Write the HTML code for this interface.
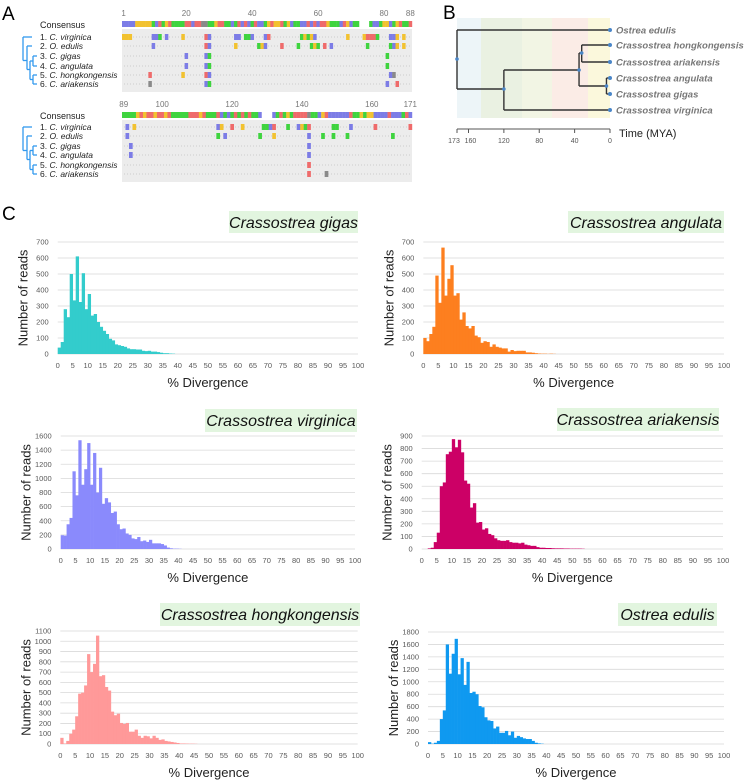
<!DOCTYPE html>
<html><head><meta charset="utf-8"><style>
body{margin:0;background:#fff}
svg{display:block;font-family:"Liberation Sans",sans-serif}
</style></head><body>
<svg id="fig" width="750" height="780" viewBox="0 0 750 780" xmlns="http://www.w3.org/2000/svg">
<text x="2" y="20" font-size="19">A</text>
<text x="443" y="19" font-size="19">B</text>
<text x="2" y="220" font-size="19">C</text>
<g id="panelA"></g>
<g id="panelB"></g>
<g id="panelC"></g>
</svg>
<script>
// ---- histogram data (1% bins starting at 0) ----
const gigasCounts=[40,75,280,230,500,335,610,325,505,280,375,240,250,200,170,145,125,95,85,60,55,50,45,35,30,30,28,28,20,18,20,15,15,12,8,5,5,3,2];
const angulataCounts=[100,80,125,170,490,320,665,365,470,555,365,380,215,260,175,160,175,115,105,70,80,75,45,60,45,40,35,35,15,25,18,20,20,20,10,10,8,5,3,2,2,1,2,1];
const virginicaCounts=[195,190,350,440,1100,760,1540,910,1130,1500,910,1360,800,1150,640,720,660,510,530,350,280,290,220,200,150,140,170,110,120,100,130,80,80,80,70,50,20,10,5,5,3];
const ariakensisCounts=[0,0,5,10,55,130,500,530,755,775,875,810,870,770,545,520,330,365,210,215,155,165,120,110,85,70,65,65,70,55,50,50,45,50,35,30,25,25,15,10,10,8,8,6,5,5,5,4,4,3,3,3,3,2];
const hongkongensisCounts=[60,5,30,100,140,270,490,500,570,875,700,780,1055,660,670,555,520,315,280,295,205,195,205,120,120,140,80,60,80,75,55,80,60,40,45,30,25,20,15,10,5,5,4,3,3,2];
const edulisCounts=[30,5,20,50,400,540,1600,1130,1450,1690,1120,1380,950,1320,820,840,800,610,590,430,380,370,250,280,180,180,210,140,200,100,130,110,90,80,80,50,20,10,5];
const yTicks700=[0,100,200,300,400,500,600,700];
const yTicks1600=[0,200,400,600,800,1000,1200,1400,1600];
const yTicks900=[0,100,200,300,400,500,600,700,800,900];
const yTicks1100=[0,100,200,300,400,500,600,700,800,900,1000,1100];
const yTicks1800=[0,200,400,600,800,1000,1200,1400,1600,1800];
const xTicks=[0,5,10,15,20,25,30,35,40,45,50,55,60,65,70,75,80,85,90,95,100];
const NS="http://www.w3.org/2000/svg";
function mk(tag,attrs,parent,txt){const e=document.createElementNS(NS,tag);for(const k in attrs)e.setAttribute(k,attrs[k]);if(txt!==undefined)e.textContent=txt;parent.appendChild(e);return e;}

const panels=[
 {name:"gigas",title:"Crassostrea gigas",data:gigasCounts,ticks:yTicks700,color:"#33cccc",x0:57.7,x1:358,y0:354,yTop:242,box:[229,211,129,22]},
 {name:"angulata",title:"Crassostrea angulata",data:angulataCounts,ticks:yTicks700,color:"#fd7f1f",x0:423.3,x1:724,y0:354,yTop:242,box:[568,211,156,22]},
 {name:"virginica",title:"Crassostrea virginica",data:virginicaCounts,ticks:yTicks1600,color:"#8a8afc",x0:60.7,x1:355,y0:549,yTop:436,box:[205,409,152,23]},
 {name:"ariakensis",title:"Crassostrea ariakensis",data:ariakensisCounts,ticks:yTicks900,color:"#cc0066",x0:421.7,x1:723,y0:549,yTop:436,box:[557,408,162,23]},
 {name:"hongkongensis",title:"Crassostrea hongkongensis",data:hongkongensisCounts,ticks:yTicks1100,color:"#ff9999",x0:60.3,x1:357.7,y0:744,yTop:631,box:[160,603,200,23]},
 {name:"edulis",title:"Ostrea edulis",data:edulisCounts,ticks:yTicks1800,color:"#0f99f0",x0:428,x1:724,y0:744,yTop:632,box:[618,603,99,23]}
];
const C=document.getElementById("panelC");
panels.forEach(p=>{
 const g=mk("g",{},C);
 
 
 const ymax=p.ticks[p.ticks.length-1];
 const xs=v=>p.x0+(p.x1-p.x0)*v/100;
 const ys=v=>p.y0-(p.y0-p.yTop)*v/ymax;
 const tb=mk("rect",{x:p.box[0],y:p.box[1],width:p.box[2],height:p.box[3],fill:"#e2f5df"},g);
 
 
 const tt=mk("text",{x:p.box[0]+p.box[2]/2,y:p.box[1]+17,"font-size":16,"font-style":"italic","text-anchor":"middle",fill:"#111"},g,p.title);
 
 
 p.ticks.forEach(t=>{
  const l=mk("line",{x1:p.x0,x2:p.x1,y1:ys(t),y2:ys(t),stroke:"#d9d9d9","stroke-width":0.8},g);
  
  
  const lb=mk("text",{x:p.x0-9,y:ys(t)+2.5,"font-size":7.5,"text-anchor":"end",fill:"#595959"},g,t);
  
  
 });
 p.data.forEach((v,i)=>{
  if(v<=0)return;
  const b=mk("rect",{x:xs(i),y:ys(v),width:xs(i+1)-xs(i)+0.3,height:p.y0-ys(v),fill:p.color},g);
  
  
 });
 xTicks.forEach(t=>{
  const lb=mk("text",{x:xs(t),y:p.y0+14,"font-size":7.5,"text-anchor":"middle",fill:"#595959"},g,t);
  
  
 });
 const xt=mk("text",{x:(p.x0+p.x1)/2,y:p.y0+33,"font-size":13,"text-anchor":"middle",fill:"#222"},g,"% Divergence");
 
 
 const cy=(p.y0+p.yTop)/2, cx=p.x0-30;
 const yt=mk("text",{x:cx,y:cy,"font-size":13,"text-anchor":"middle",fill:"#222",transform:`rotate(-90 ${cx} ${cy})`},g,"Number of reads");
 
 
});

// ---- Panel B tree ----
const B=document.getElementById("panelB");
const bands=[[457,481,"#edf5f8"],[481,522,"#eaf1e2"],[522,552,"#f2f5e4"],[552,588,"#fbece6"],[588,610,"#fbf8dc"]];
bands.forEach(b=>{const r=mk("rect",{x:b[0],y:18,width:b[1]-b[0],height:100,fill:b[2]},B);
 
 });
const tx=m=>610-m*153/173;
const segs=[[457,30,610,30],[457,30,457,89],[457,89,tx(120),89],[tx(120),70,tx(120),110],[tx(120),70,tx(35),70],[tx(120),110,610,110],
[tx(35),53,tx(35),86],[tx(35),53,tx(32),53],[tx(35),86,tx(4),86],[tx(32),45,tx(32),62],[tx(32),45,610,45],[tx(32),62,610,62],
[tx(4),78,tx(4),94],[tx(4),78,610,78],[tx(4),94,610,94]];
segs.forEach(s=>{const l=mk("line",{x1:s[0],y1:s[1],x2:s[2],y2:s[3],stroke:"#333","stroke-width":1.4},B);
 
 });
[[tx(120),89],[tx(35),70],[tx(32),53],[tx(4),86],[457,59]].forEach(n=>{const c=mk("circle",{cx:n[0],cy:n[1],r:1.8,fill:"#4a86c8"},B);
 
 });
const tips=[["Ostrea edulis",30],["Crassostrea hongkongensis",45],["Crassostrea ariakensis",62],["Crassostrea angulata",78],["Crassostrea gigas",94],["Crassostrea virginica",110]];
tips.forEach(t=>{
 const c=mk("circle",{cx:610,cy:t[1],r:2,fill:"#4a86c8"},B);
 
 
 const l=mk("text",{x:616,y:t[1]+3.5,"font-size":9.5,"font-style":"italic","font-weight":"bold",fill:"#777"},B,t[0]);
 
 
});
const ax=mk("line",{x1:457,x2:610,y1:129,y2:129,stroke:"#555","stroke-width":1},B);


[173,160,120,80,40,0].forEach(m=>{
 mk("line",{x1:tx(m),x2:tx(m),y1:129,y2:133,stroke:"#555"},B);
 const l=mk("text",{x:tx(m)+(m===173?-3:m===160?2:0),y:143,"font-size":7,"text-anchor":"middle",fill:"#555"},B,m);
 
 
});
const tl=mk("text",{x:619,y:137,"font-size":11,fill:"#222"},B,"Time (MYA)");



// ---- Panel A alignment ----
const A=document.getElementById("panelA");
const col={A:"#ef6b6b",C:"#7c7ce6",G:"#f2c230",T:"#3fd43f",N:"#8a8a8a","-":"#ffffff"};
const cons1="CCCCGGGGGTCATGATTTTAACAANNTTGAATTCTACACTACCTGAGGATGCTTCCACACAAGTTTCAGCTT---TCCTGGCTGATTAG";
const cons2="TTTTGAGAAGAAGATTTTTAAAGATTTACTCTATATATTC---CTATGTAAAANTTCGACCCCCCATTGTGGCCCCACCCTAC";
const names=["1. C. virginica","2. O. edulis","3. C. gigas","4. C. angulata","5. C. hongkongensis","6. C. ariakensis"];
const blocks=[
 {cons:cons1,n:88,y:21,ticks:[[1,"1"],[20,"20"],[40,"40"],[60,"60"],[80,"80"],[88,"88"]],rows:[37,46,56,66,75,84],
  vars:[[0,0,"GGG"],[0,9,"CC"],[0,11,"T"],[0,13,"C"],[0,18,"G"],[0,25,"AC"],[0,34,"CC"],[0,37,"TTC"],[0,43,"CA"],[0,54,"TGTGC"],[0,68,"G"],[0,73,"GAAAT"],[0,81,"CC"],[0,83,"G"],[0,85,"G"],
   [1,9,"C"],[1,25,"AC"],[1,34,"G"],[1,41,"TG"],[1,43,"C"],[1,48,"A"],[1,53,"T"],[1,57,"TGT"],[1,61,"A"],[1,63,"C"],[1,74,"T"],[1,81,"TC"],[1,83,"G"],[1,85,"G"],
   [2,19,"C"],[2,25,"CT"],[2,80,"T"],[3,19,"C"],[3,25,"CT"],[3,80,"T"],
   [4,8,"A"],[4,18,"G"],[4,25,"AC"],[4,81,"CN"],[5,8,"N"],[5,25,"CT"],[5,80,"C"],[5,83,"A"]]},
 {cons:cons2,n:83,y:112,ticks:[[1,"89"],[12,"100"],[32,"120"],[52,"140"],[72,"160"],[83,"171"]],rows:[127,136,146,155,165,174],
  vars:[[0,1,"C"],[0,3,"G"],[0,27,"CG"],[0,31,"A"],[0,34,"G"],[0,40,"TTCA"],[0,47,"T"],[0,50,"CGT"],[0,53,"A"],[0,60,"T"],[0,61,"T"],[0,65,"C"],[0,72,"A"],[0,82,"A"],
   [1,1,"C"],[1,27,"T"],[1,29,"C"],[1,39,"T"],[1,43,"G"],[1,53,"C"],[1,57,"T"],[1,60,"T"],[1,64,"T"],[1,77,"T"],
   [2,2,"C"],[2,53,"C"],[3,2,"C"],[3,53,"C"],[4,53,"A"],[5,53,"A"],[5,58,"N"]]}
];
blocks.forEach((bk,bi)=>{
 const x0=122,w=290,cw=w/bk.n;
 const g=mk("g",{},A);
 
 
 bk.ticks.forEach(t=>{const tx2=x0+(t[0]-0.5)*cw;
  mk("text",{x:tx2,y:bk.y-5,"font-size":8,"text-anchor":"middle",fill:"#777"},g,t[1]);});
 const cl=mk("text",{x:40,y:bk.y+7,"font-size":9,fill:"#222"},g,"Consensus");
 
 
 for(let i=0;i<bk.n;i++){const ch=bk.cons[i]||"-";
  mk("rect",{x:x0+i*cw,y:bk.y,width:cw+0.2,height:6,fill:col[ch]},g);}
 mk("rect",{x:x0,y:bk.y+8,width:w,height:bk.rows[5]-bk.y,fill:"#ececec"},g);
 bk.rows.forEach((ry,ri)=>{
  mk("line",{x1:x0+2,x2:x0+w-2,y1:ry,y2:ry,stroke:"#aaa","stroke-width":0.6,"stroke-dasharray":"1 2"},g);
  const nm=names[ri].split(" ");
  const lb=mk("text",{x:40,y:ry+3,"font-size":8.5,fill:"#222"},g);
  
  
  mk("tspan",{},lb,nm[0]+" ");
  mk("tspan",{"font-style":"italic"},lb,nm.slice(1).join(" "));
 });
 bk.vars.forEach(v=>{for(let k=0;k<v[2].length;k++){
  mk("rect",{x:x0+(v[1]+k)*cw,y:bk.rows[v[0]]-3,width:cw+0.2,height:6,fill:col[v[2][k]]},g);}});
 const r=bk.rows, t=mk("g",{stroke:"#3399ee","stroke-width":1.3,fill:"none"},g);
 
 
 const L=(a,b,c,d)=>mk("line",{x1:a,y1:b,x2:c,y2:d},t);
 L(23,r[0],23,(r[1]+r[4])/2);L(23,r[0],32,r[0]);
 L(23,(r[1]+r[4])/2,27,(r[1]+r[4])/2);L(27,r[1],27,(r[2]+r[4])/2+4);L(27,r[1],32,r[1]);
 L(27,(r[2]+r[4])/2+4,30,(r[2]+r[4])/2+4);L(30,(r[2]+r[3])/2,30,(r[4]+r[5])/2);
 L(30,(r[2]+r[3])/2,33,(r[2]+r[3])/2);L(33,r[2],33,r[3]);L(33,r[2],37,r[2]);L(33,r[3],37,r[3]);
 L(30,(r[4]+r[5])/2,33,(r[4]+r[5])/2);L(33,r[4],33,r[5]);L(33,r[4],37,r[4]);L(33,r[5],37,r[5]);
});
</script>
</body></html>
